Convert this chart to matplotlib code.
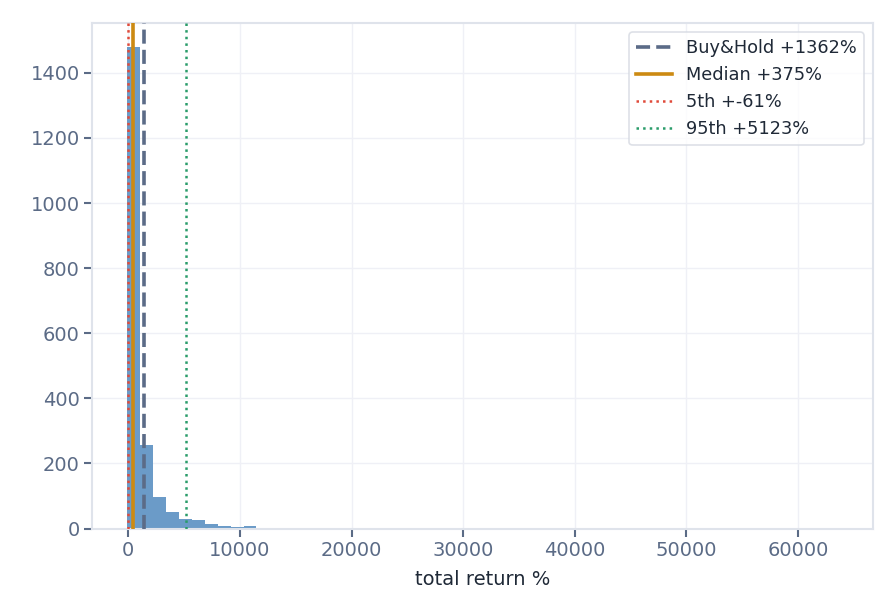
import matplotlib
matplotlib.use("Agg")
import matplotlib.pyplot as plt
import numpy as np

# histogram of simulated total returns (55 equal bins)
ret_min = -75.0
ret_max = 63500.0
counts = [1479, 256, 96, 51, 29, 26, 15, 7, 4, 7,
          1, 1, 1, 1, 1, 1, 0, 1, 0, 0,
          1, 0, 0, 1, 1, 0, 0, 1, 1, 0,
          1, 0, 0, 0, 0, 1, 0, 1, 0, 0,
          0, 0, 0, 0, 0, 0, 0, 0, 0, 0,
          0, 0, 0, 0, 1]

buy_hold = 1362
median = 375
p5 = -61
p95 = 5123

edges = np.linspace(ret_min, ret_max, len(counts) + 1)

TICK = "#5b6b86"
SPINE = "#dfe3eb"

fig, ax = plt.subplots(figsize=(8.96, 6.16), dpi=100)
fig.subplots_adjust(left=0.103, right=0.974, top=0.962, bottom=0.142)

ax.hist(edges[:-1], bins=edges, weights=counts, color="#6b9bc8", zorder=2)

ax.axvline(buy_hold, color="#5b6b87", ls=(0, (3.9, 1.7)), lw=2.6,
           label=f"Buy&Hold +{buy_hold}%", zorder=3)
ax.axvline(median, color="#cc8a12", lw=2.6, label=f"Median +{median}%", zorder=3)
ax.axvline(p5, color="#e04a3a", ls=":", lw=1.8, label=f"5th +{p5}%", zorder=3)
ax.axvline(p95, color="#2a9c6a", ls=":", lw=1.8, label=f"95th +{p95}%", zorder=3)

ax.set_xlim(-3230, 66700)
ax.set_ylim(0, 1552)
ax.set_xlabel("total return %", fontsize=14, color="#1f2937", labelpad=7)

ax.grid(True, color="#eff0f6", lw=1, zorder=0)
for s in ax.spines.values():
    s.set_color(SPINE)
    s.set_linewidth(1.5)
ax.tick_params(colors=TICK, labelsize=14, length=5.5, width=1.5)
for lab in ax.get_xticklabels() + ax.get_yticklabels():
    lab.set_color(TICK)

leg = ax.legend(loc="upper right", fontsize=12.8, frameon=True, fancybox=True,
                labelcolor="#1f2937")
leg.get_frame().set_edgecolor("#d5d9e1")
leg.get_frame().set_linewidth(1.2)

fig.savefig("out.png")
